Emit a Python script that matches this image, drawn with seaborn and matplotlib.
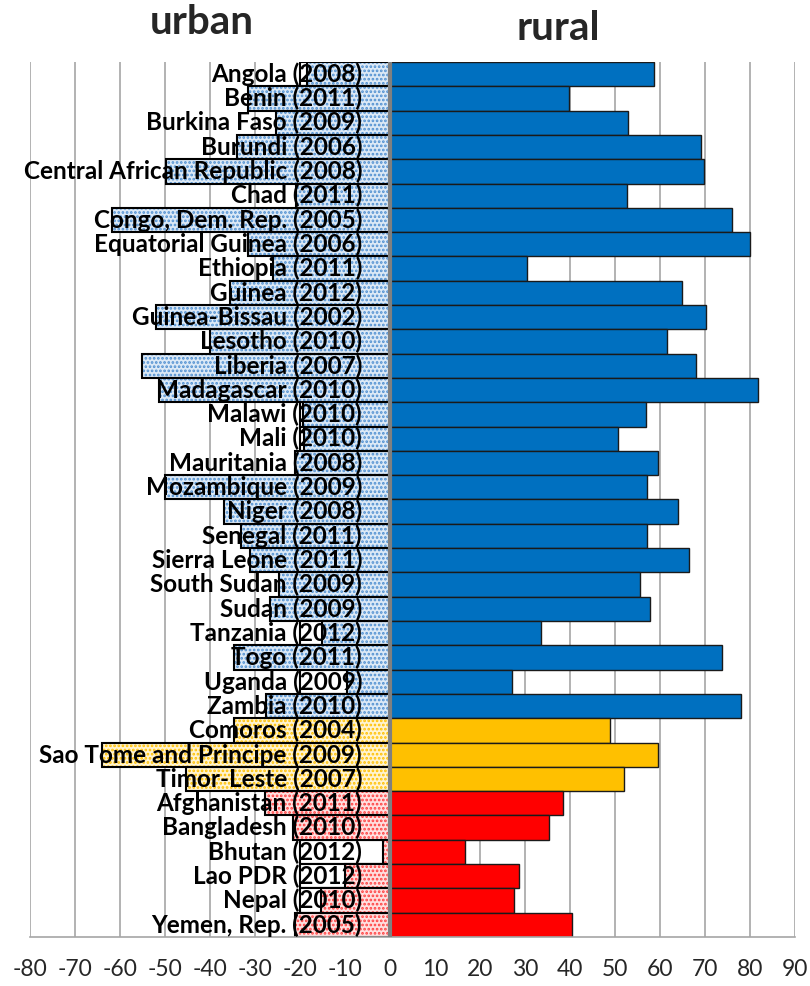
import numpy as np
import pandas as pd
import matplotlib
matplotlib.use("Agg")
import matplotlib.pyplot as plt
import seaborn as sns

# 데이터
countries = ["Angola (2008)", "Benin (2011)", "Burkina Faso (2009)", "Burundi (2006)",
             "Central African Republic (2008)", "Chad (2011)", "Congo, Dem. Rep. (2005)",
             "Equatorial Guinea (2006)", "Ethiopia (2011)", "Guinea (2012)",
             "Guinea-Bissau (2002)", "Lesotho (2010)", "Liberia (2007)", "Madagascar (2010)",
             "Malawi (2010)", "Mali (2010)", "Mauritania (2008)", "Mozambique (2009)",
             "Niger (2008)", "Senegal (2011)", "Sierra Leone (2011)", "South Sudan (2009)",
             "Sudan (2009)", "Tanzania (2012)", "Togo (2011)", "Uganda (2009)", "Zambia (2010)",
             "Comoros (2004)", "Sao Tome and Principe (2009)", "Timor-Leste (2007)",
             "Afghanistan (2011)", "Bangladesh (2010)", "Bhutan (2012)", "Lao PDR (2012)",
             "Nepal (2010)", "Yemen, Rep. (2005)"]
region = ["africa"] * 27 + ["island"] * 3 + ["asia"] * 6
urban = [-18.5, -31.6, -25.3, -34.1, -49.8, -20.8, -61.8, -31.6, -26.1, -35.5,
         -52.1, -40.1, -55.2, -51.3, -19.3, -19.0, -21.2, -50.0, -36.8, -33.1,
         -31.1, -24.6, -26.6, -15.2, -34.6, -9.6, -27.5,
         -34.6, -64.1, -45.4,
         -27.8, -21.6, -1.6, -10.0, -15.4, -21.0]
rural = [58.6, 39.8, 53.0, 69.2, 69.8, 52.7, 76.1, 80.1, 30.4, 64.9,
         70.2, 61.5, 68.1, 81.7, 56.9, 50.6, 59.5, 57.2, 64.1, 57.2,
         66.4, 55.5, 57.8, 33.5, 73.8, 27.2, 78.1,
         49.0, 59.5, 51.9,
         38.4, 35.3, 16.7, 28.6, 27.6, 40.4]
# 라벨 뒤 흰 상자 (짧은 urban 막대 행에서 보이는 부분)
label_box = [-20.0] * len(countries)
xticks = list(range(-80, 91, 10))

solid = {"africa": "#0070C0", "island": "#FFC000", "asia": "#FF0000"}
dots = {"africa": "#4F8FD0", "island": "#FFC000", "asia": "#FF4040"}
tint = {"africa": "#DCE9F6", "island": "#FFF4D2", "asia": "#FFE0E0"}

df = pd.DataFrame({"label": countries, "region": region, "urban": urban,
                   "rural": rural, "box": label_box})

sns.set_style("white")
plt.rcParams["font.family"] = ["Lato", "DejaVu Sans"]
plt.rcParams["hatch.linewidth"] = 1.3

fig = plt.figure(figsize=(8.1, 9.86), dpi=100)
ax = fig.add_axes([30 / 810, 49 / 986, 765 / 810, 875 / 986])

# 흰 라벨 상자
sns.barplot(data=df, x="box", y="label", color="white", edgecolor="black",
            linewidth=1.5, width=1.0, saturation=1, ax=ax)
n_prev = len(ax.patches)

# urban 점무늬 막대
sns.barplot(data=df, x="urban", y="label", hue="region", palette=tint, dodge=False,
            width=1.0, saturation=1, linewidth=0, legend=False, ax=ax)
for p in ax.patches[n_prev:]:
    fc = matplotlib.colors.to_hex(p.get_facecolor())
    key = [k for k, v in tint.items() if v.lower() == fc.lower()][0]
    p.set_edgecolor(dots[key])
    p.set_linewidth(0)
    p.set_hatch("....")

# urban 테두리
sns.barplot(data=df, x="urban", y="label", fill=False, color="black",
            width=1.0, linewidth=1.5, ax=ax)

# rural 막대
sns.barplot(data=df, x="rural", y="label", hue="region", palette=solid, dodge=False,
            width=1.0, saturation=1, edgecolor="#1a1a1a", linewidth=1.0,
            legend=False, ax=ax)

for i, lab in enumerate(countries):
    ax.text(-6.2, i, lab, ha="right", va="center", fontsize=17.5,
            fontweight="bold", color="black", zorder=10)

ax.axvline(0, color="#808080", lw=3, zorder=9)
ax.set_xlim(-80, 90)
ax.set_ylim(len(countries) - 0.5, -0.5)
ax.set_xticks(xticks)
ax.set_xticklabels([str(t) for t in xticks], fontsize=16.5)
ax.tick_params(axis="x", length=0, pad=16)
ax.set_yticks([])
ax.set_xlabel("")
ax.set_ylabel("")
ax.grid(axis="x", color="#A6A6A6", lw=1.2)
ax.set_axisbelow(True)
for s in ["top", "left", "right"]:
    ax.spines[s].set_visible(False)
ax.spines["bottom"].set_color("#A6A6A6")
ax.spines["bottom"].set_linewidth(1.2)

fig.text(202 / 810, 1 - 22 / 986, "urban", ha="center", va="center",
         fontsize=29, fontweight="bold")
fig.text(558 / 810, 1 - 28 / 986, "rural", ha="center", va="center",
         fontsize=29, fontweight="bold")

fig.savefig("out.png", dpi=100)
